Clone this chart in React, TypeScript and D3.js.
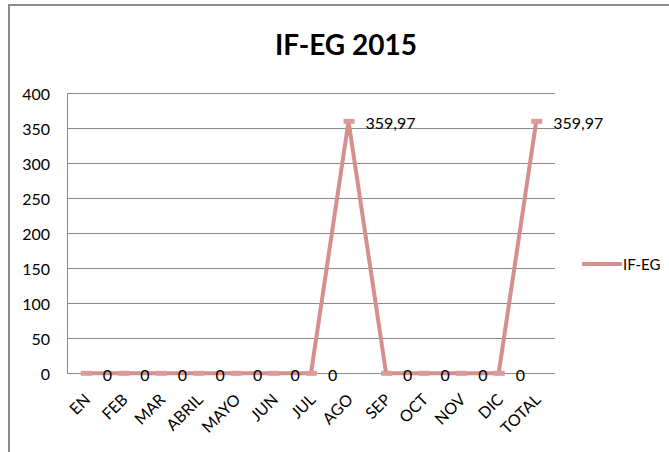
import React from "react";
import * as d3 from "d3";

const categories = ["EN", "FEB", "MAR", "ABRIL", "MAYO", "JUN", "JUL", "AGO", "SEP", "OCT", "NOV", "DIC", "TOTAL"];
const values = [0, 0, 0, 0, 0, 0, 0, 359.97, 0, 0, 0, 0, 359.97];
const yTicks = [0, 50, 100, 150, 200, 250, 300, 350, 400];
const seriesName = "IF-EG";
const title = "IF-EG 2015";

const W = 669;
const H = 452;
const FONT = "Lato, 'Open Sans', sans-serif";
const LINE = "#d4908f";

export default function App() {
  const x = d3.scaleBand<string>().domain(categories).range([67, 555]);
  const y = d3.scaleLinear().domain([0, 400]).range([373.3, 93.3]);
  const cx = (c: string) => (x(c) as number) + x.bandwidth() / 2;
  const line = d3
    .line<number>()
    .x((_, i) => cx(categories[i]))
    .y((v) => y(v));
  const fmt = (v: number) => (v === 0 ? "0" : v.toFixed(2).replace(".", ","));

  return (
    <svg
      width={W}
      height={H}
      style={{ position: "absolute", left: 0, top: 0, background: "#fff" }}
    >
      <rect x={9} y={5} width={W + 10} height={H + 10} fill="#fff" stroke="#8c8c8c" strokeWidth={2} />
      <text x={346} y={55} textAnchor="middle" fontFamily={FONT} fontWeight="bold" fontSize={28} fill="#000">
        {title}
      </text>
      {yTicks.map((t) => (
        <g key={t}>
          <line x1={67} x2={555} y1={Math.round(y(t)) + 0.5} y2={Math.round(y(t)) + 0.5} stroke="#8a8a8a" strokeWidth={1} />
          <text x={50} y={y(t)} textAnchor="end" dominantBaseline="central" fontFamily={FONT} fontSize={16} fill="#000">
            {t}
          </text>
        </g>
      ))}
      <line x1={67.5} x2={67.5} y1={93} y2={374} stroke="#8a8a8a" strokeWidth={1} />
      {categories.map((c) => (
        <text
          key={c}
          transform={`translate(${cx(c) + 1},${396}) rotate(-45)`}
          textAnchor="end"
          dominantBaseline="central"
          fontFamily={FONT}
          fontSize={16}
          fill="#000"
        >
          {c}
        </text>
      ))}
      <path d={line(values) || ""} fill="none" stroke={LINE} strokeWidth={4} strokeLinejoin="round" />
      {values.map((v, i) => (
        <rect key={i} x={cx(categories[i]) - 5} y={y(v) - 2.5} width={11} height={5} fill="#d99c9b" />
      ))}
      {values.map((v, i) => (
        <text
          key={"l" + i}
          x={cx(categories[i]) + 17}
          y={y(v) + 1}
          dominantBaseline="central"
          fontFamily={FONT}
          fontSize={16}
          fill="#000"
        >
          {fmt(v)}
        </text>
      ))}
      <line x1={582} x2={622} y1={264} y2={264} stroke={LINE} strokeWidth={4} />
      <text x={623} y={264} dominantBaseline="central" fontFamily={FONT} fontSize={15} fill="#000">
        {seriesName}
      </text>
    </svg>
  );
}
